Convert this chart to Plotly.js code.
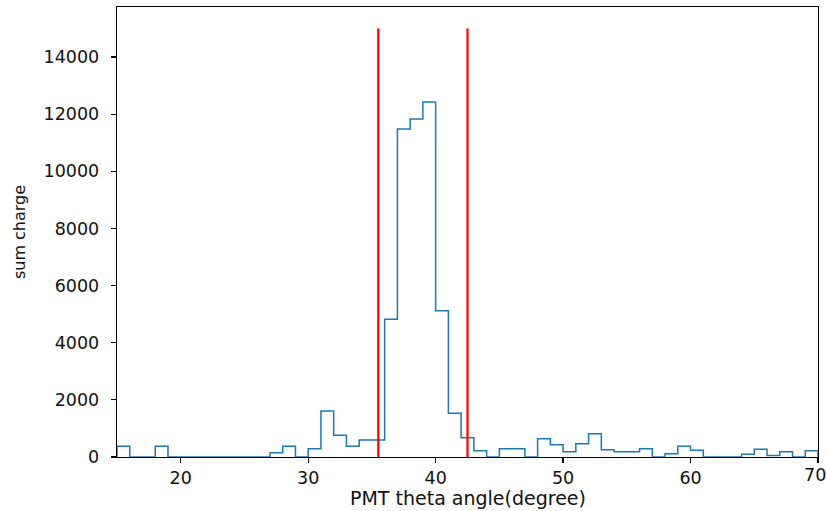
<!DOCTYPE html>
<html>
<head>
<meta charset="utf-8">
<script src="https://cdn.plot.ly/plotly-3.0.1.min.js"></script>
<style>html,body{margin:0;padding:0;background:#fff;}#chart{width:827px;height:511px;}</style>
</head>
<body>
<div id="chart"></div>
<script>
// Bin edges (degrees) and summed charge per 1-degree bin, 15..70
const binEdges = [15,16,17,18,19,20,21,22,23,24,25,26,27,28,29,30,31,32,33,34,35,36,37,38,39,40,41,42,43,44,45,46,47,48,49,50,51,52,53,54,55,56,57,58,59,60,61,62,63,64,65,66,67,68,69,70];
const sumCharge = [375,0,0,375,0,0,0,0,0,0,0,0,150,375,0,290,1610,760,375,595,595,4820,11480,11830,12425,5120,1530,676,220,0,290,290,0,640,430,180,467,815,257,185,185,290,0,117,375,233,0,0,0,93,268,50,185,0,220];
const cutLines = [35.5, 42.5];
const cutHeight = 15000;
const xTicks = [20,30,40,50,60,70];
const yTicks = [0,2000,4000,6000,8000,10000,12000,14000];
const xTitle = 'PMT theta angle(degree)';
const yTitle = 'sum charge';

// Build step outline (like matplotlib histtype='step')
const stepX = [binEdges[0]];
const stepY = [0];
for (let i = 0; i < sumCharge.length; i++) {
  stepX.push(binEdges[i], binEdges[i+1]);
  stepY.push(sumCharge[i], sumCharge[i]);
}
stepX.push(binEdges[binEdges.length-1]);
stepY.push(0);

const traces = [{
  x: stepX, y: stepY, type: 'scatter', mode: 'lines',
  line: {color: '#1f77b4', width: 1.5}, hoverinfo: 'skip'
}];
cutLines.forEach(c => traces.push({
  x: [c, c], y: [0, cutHeight], type: 'scatter', mode: 'lines',
  line: {color: '#ff0000', width: 2.2}, hoverinfo: 'skip'
}));

const tickFont = {family: 'DejaVu Sans', size: 17.5, color: '#111'};
const lastTick = xTicks[xTicks.length - 1];
const layout = {
  width: 827, height: 511,
  margin: {l: 117, r: 9, t: 7, b: 54},
  paper_bgcolor: '#fff', plot_bgcolor: '#fff',
  showlegend: false,
  font: tickFont,
  xaxis: {
    range: [15, 70], tickvals: xTicks,
    ticktext: xTicks.map(t => t === lastTick ? '' : String(t)),
    ticks: 'outside', ticklen: 5, tickwidth: 1.2, tickcolor: '#000',
    ticklabeloverflow: 'allow', ticklabelstandoff: 0,
    showline: true, linecolor: '#000', linewidth: 1.3, mirror: true,
    showgrid: false, zeroline: false,
    tickfont: tickFont
  },
  yaxis: {
    range: [0, 15750], tickvals: yTicks, ticktext: yTicks.map(String),
    ticks: 'outside', ticklen: 5, tickwidth: 1.2, tickcolor: '#000',
    ticklabelstandoff: 8,
    showline: true, linecolor: '#000', linewidth: 1.3, mirror: true,
    showgrid: false, zeroline: false,
    tickfont: tickFont,
    title: {text: yTitle, font: {family: 'DejaVu Sans', size: 16, color: '#111'}, standoff: 14}
  },
  annotations: [
    { // last x tick label sits at the figure edge: nudged inside
      x: lastTick, xref: 'x', y: 0, yref: 'paper', yanchor: 'top', xanchor: 'center',
      xshift: -3, yshift: -6, text: String(lastTick), showarrow: false, font: tickFont
    },
    { // x-axis title
      x: 0.5, xref: 'paper', y: 0, yref: 'paper', yanchor: 'top', xanchor: 'center',
      yshift: -28, text: xTitle, showarrow: false,
      font: {family: 'DejaVu Sans', size: 19, color: '#111'}
    }
  ]
};
Plotly.newPlot('chart', traces, layout, {staticPlot: true, displayModeBar: false});
</script>
</body>
</html>
